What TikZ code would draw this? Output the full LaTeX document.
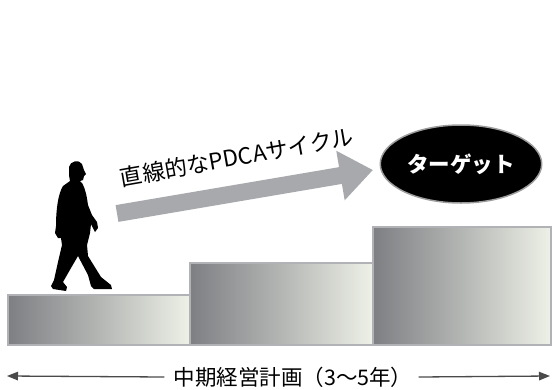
\documentclass[tikz,border=0pt]{standalone}
\usepackage{fontspec}
\usepackage{xcolor}
\usepackage{tikz}
\usetikzlibrary{positioning,shapes.geometric,arrows.meta}
\newfontfamily\jpfont{Noto Sans CJK JP}
\definecolor{StepDark}{HTML}{7E7F83}
\definecolor{StepMid}{HTML}{B4B6B4}
\definecolor{StepLight}{HTML}{EEF1E7}
\definecolor{StepEdge}{HTML}{B0B2B5}
\definecolor{CycleGray}{HTML}{A7A9AC}
\definecolor{GoalRim}{HTML}{9C9C9C}
\definecolor{SpanGray}{HTML}{4A4A4A}
\tikzset{
  stepbox/.style={draw=StepEdge,line width=1.2pt,left color=StepDark,
    right color=StepLight,middle color=StepMid,inner sep=0pt},
  goalnode/.style={ellipse,draw=GoalRim,fill=black,line width=1.5pt,
    minimum width=160pt,minimum height=78pt,
    font=\jpfont\fontsize{21.5}{24}\selectfont\bfseries\color{white}},
  cycleArrow/.style={line width=17pt,draw=CycleGray,
    -{Triangle[width=48pt,length=33pt]}},
  spanEdge/.style={line width=1.3pt,draw=SpanGray,
    -{Triangle[width=8.5pt,length=11pt]}},
  labeltext/.style={font=\jpfont\fontsize{#1}{#1}\selectfont,inner sep=0pt},
}

\begin{document}
\begin{tikzpicture}[x=1pt,y=-1pt]
  \useasboundingbox (0,0) rectangle (552,389);
  % three steps
  \draw[stepbox] (8,295) rectangle (190,345);
  \draw[stepbox] (190,263) rectangle (373,345);
  \draw[stepbox] (373,227) rectangle (551,345);
  % walking man
  \fill[black] (69,167) .. controls (70,161) and (79,159) .. (82,164)
    -- (84,170) -- (86,174) -- (84,176) -- (83,180) -- (80,181)
    -- (82,183) .. controls (86,190) and (87,198) .. (88,205)
    -- (92,215) -- (97,222) -- (98,228) -- (95,232) -- (93,228)
    -- (91,224) -- (90,233) -- (87,245) -- (88,256) -- (101,277)
    -- (106,281) -- (111,285) -- (112,289) -- (94,289) -- (91,286)
    -- (88,275) -- (78,256)
    -- (71,268) -- (63,282) -- (67,287) -- (66,291) -- (53,289)
    -- (51,286) -- (54,280) -- (58,262) -- (62,245) -- (61,238)
    -- (58,238) -- (55,233) -- (56,226)
    .. controls (56,210) and (58,194) .. (63,186)
    -- (70,181) -- (69,175) -- cycle;
  % straight PDCA arrow
  \coordinate (cycleStart) at (117,213.5);
  \coordinate (cycleTip) at (373,170);
  \draw[cycleArrow] (cycleStart) -- (cycleTip);
  \node[labeltext=22.5,rotate=10] (cycleLabel) at (237,157) {直線的なPDCAサイクル};
  % target
  \node[goalnode] (goal) at (461,164) {ターゲット};
  % plan span
  \node[labeltext=21.5] (plan) at (293,377) {中期経営計画（3～5年）};
  \coordinate (spanL) at (7,376);
  \coordinate (spanR) at (550,376);
  \draw[spanEdge] ([xshift=-9pt]plan.west) -- (spanL);
  \draw[spanEdge] ([xshift=6pt]plan.east) -- (spanR);
\end{tikzpicture}
\end{document}
